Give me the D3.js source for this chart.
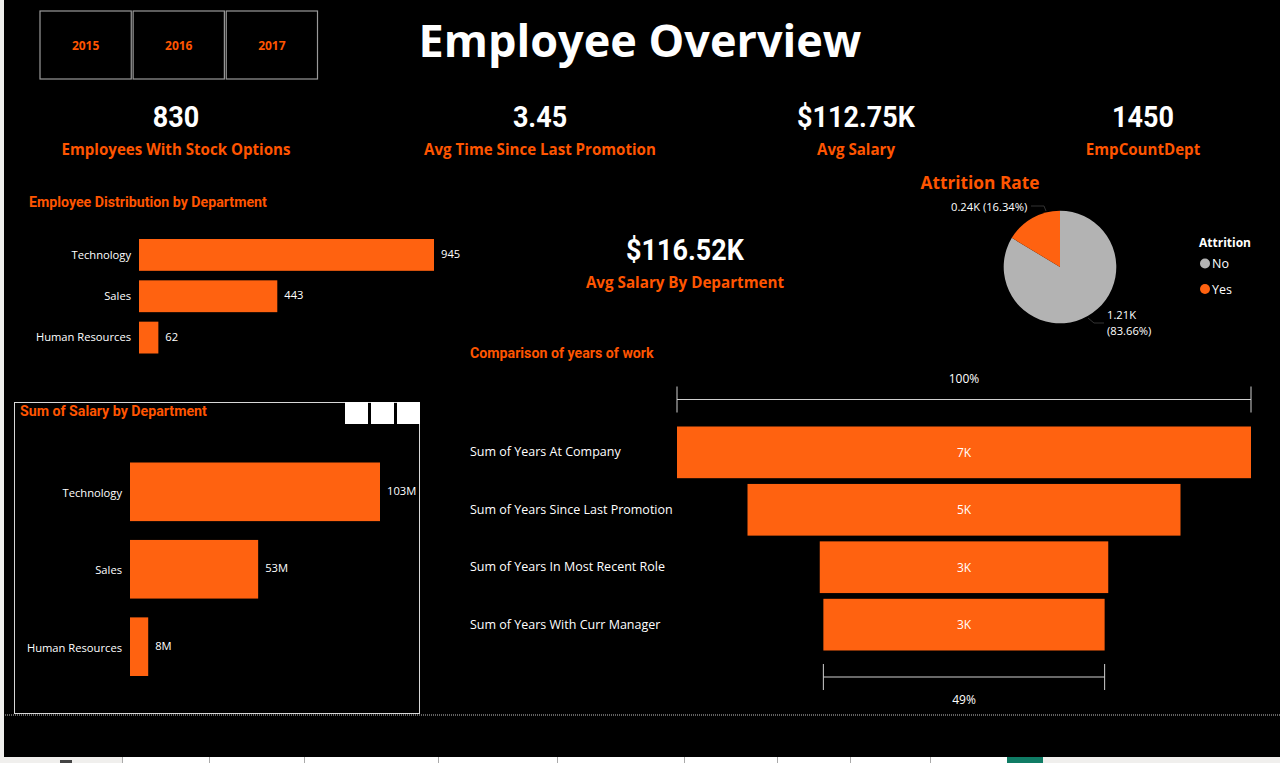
<!DOCTYPE html>
<html>
<head>
<meta charset="utf-8">
<title>Employee Overview</title>
<script src="https://cdn.jsdelivr.net/npm/d3@7"></script>
<style>
  html, body { margin: 0; padding: 0; background: #f0efed; overflow: hidden; }
  svg { display: block; }
  text { font-family: "Open Sans", sans-serif; }
  .din { font-family: Roboto, sans-serif; font-weight: 700; }
</style>
</head>
<body>
<div id="chart"></div>
<script>
const years = ['2015', '2016', '2017'];

const kpiValues = ['830', '3.45', '$112.75K', '1450'];
const kpiLabels = ['Employees With Stock Options', 'Avg Time Since Last Promotion', 'Avg Salary', 'EmpCountDept'];

const departments = ['Technology', 'Sales', 'Human Resources'];
const employeeCounts = [945, 443, 62];
const salarySums = [103, 52.8, 7.5];

const attritionLabels = ['No', 'Yes'];
const attritionCounts = [1213, 237];

const funnelStages = ['Sum of Years At Company', 'Sum of Years Since Last Promotion', 'Sum of Years In Most Recent Role', 'Sum of Years With Curr Manager'];
const funnelValues = [6900, 5205, 3468, 3381];

const ORANGE = '#ff6210';
const TEXT_ORANGE = '#ff5500';
const GREY = '#b3b3b3';

const svg = d3.select('#chart').append('svg')
    .attr('width', 1280)
    .attr('height', 763);

// dashboard background, the window chrome stays visible round it
svg.append('rect').attr('x', 4).attr('y', 0).attr('width', 1276).attr('height', 757).attr('fill', '#000');

function label(x, y, str, size, fill, anchor, cls) {
    return svg.append('text')
        .attr('class', cls || null)
        .attr('x', x)
        .attr('y', y)
        .attr('text-anchor', anchor || 'middle')
        .attr('font-size', size)
        .attr('fill', fill)
        .text(str);
}

// the big numbers are a narrower face than Roboto, squeeze them a bit
function condense(sel, k) {
    const len = sel.node().getComputedTextLength();
    sel.attr('textLength', len * k).attr('lengthAdjust', 'spacingAndGlyphs');
}

// year slicer
const yearX = d3.scaleBand().domain(years).range([40, 317.5]).paddingInner(0.02);
const yearCells = svg.selectAll('.year').data(years).join('g').attr('class', 'year');
yearCells.append('rect')
    .attr('x', d => yearX(d))
    .attr('y', 11)
    .attr('width', yearX.bandwidth())
    .attr('height', 68)
    .attr('fill', '#000')
    .attr('stroke', '#9a9a9a')
    .attr('stroke-width', 1.2);
yearCells.append('text')
    .attr('x', d => yearX(d) + yearX.bandwidth() / 2)
    .attr('y', 49.5)
    .attr('text-anchor', 'middle')
    .attr('font-size', 12)
    .attr('font-weight', 700)
    .attr('fill', TEXT_ORANGE)
    .text(d => d);

label(640, 57, 'Employee Overview', 45, '#fff').attr('font-weight', 700);

// KPI cards
const kpiX = [176, 540, 856, 1143];
kpiValues.forEach((v, i) => {
    condense(label(kpiX[i], 127, v, 29, '#fff', 'middle', 'din'), 0.93);
    label(kpiX[i], 155, kpiLabels[i], 15.1, TEXT_ORANGE).attr('font-weight', 700);
});

condense(label(685, 260, '$116.52K', 29, '#fff', 'middle', 'din'), 0.93);
label(685, 288, 'Avg Salary By Department', 15.2, TEXT_ORANGE).attr('font-weight', 700);

// horizontal bar chart, shared by both department panels
function departmentBars(opts) {
    const x = d3.scaleLinear().domain([0, opts.max]).range([0, opts.width]);
    const y = d3.scaleBand().domain(departments).range([opts.top, opts.bottom]).paddingInner(opts.gap);
    const g = svg.append('g').attr('transform', `translate(${opts.left},0)`);

    g.selectAll('rect')
        .data(opts.values)
        .join('rect')
        .attr('x', 0)
        .attr('y', (d, i) => y(departments[i]))
        .attr('width', d => x(d))
        .attr('height', y.bandwidth())
        .attr('fill', ORANGE);

    const axis = g.append('g').call(d3.axisLeft(y).tickSize(0).tickPadding(8));
    axis.select('.domain').remove();
    axis.selectAll('text')
        .attr('font-family', '"Open Sans", sans-serif')
        .attr('font-size', 11.2)
        .attr('fill', '#fff')
        .attr('dy', opts.labelDy);

    g.selectAll('.value')
        .data(opts.values)
        .join('text')
        .attr('class', 'value')
        .attr('x', d => x(d) + 7)
        .attr('y', (d, i) => y(departments[i]) + y.bandwidth() / 2 + 3)
        .attr('font-size', 11.2)
        .attr('fill', '#fff')
        .text(opts.format);
}

label(29, 207, 'Employee Distribution by Department', 14.2, TEXT_ORANGE, 'start', 'din');
departmentBars({
    values: employeeCounts, max: 945, width: 295, left: 139,
    top: 239, bottom: 353.5, gap: 0.23, labelDy: '0.32em',
    format: d => d
});

// salary panel
svg.append('rect')
    .attr('x', 14.5).attr('y', 402.5)
    .attr('width', 405).attr('height', 311)
    .attr('fill', 'none').attr('stroke', '#d8d8d8');
label(20, 416, 'Sum of Salary by Department', 14.2, TEXT_ORANGE, 'start', 'din');
[345, 371, 397].forEach(x => {
    svg.append('rect').attr('x', x).attr('y', 402).attr('width', 23).attr('height', 22).attr('fill', '#fff');
});
departmentBars({
    values: salarySums, max: 103, width: 250, left: 130,
    top: 462.5, bottom: 676, gap: 0.243, labelDy: '0.45em',
    format: d => Math.round(d) + 'M'
});

// attrition pie
label(980, 189, 'Attrition Rate', 17.3, TEXT_ORANGE).attr('font-weight', 700);

const pie = d3.pie().sort(null)(attritionCounts);
const arc = d3.arc().innerRadius(0).outerRadius(56.3);
const pieColor = d3.scaleOrdinal().domain(attritionLabels).range([GREY, ORANGE]);
svg.append('g')
    .attr('transform', 'translate(1060,267)')
    .selectAll('path')
    .data(pie)
    .join('path')
    .attr('d', arc)
    .attr('fill', (d, i) => pieColor(attritionLabels[i]));

// leader lines for the pie labels
const leader = d3.line();
svg.append('path').attr('d', leader([[1031, 206], [1044, 206], [1046, 211]])).attr('fill', 'none').attr('stroke', '#333');
svg.append('path').attr('d', leader([[1088, 318], [1094, 323], [1104, 323]])).attr('fill', 'none').attr('stroke', '#333');
label(951, 211, '0.24K (16.34%)', 11.2, '#fff', 'start');
label(1107, 319, '1.21K', 11.2, '#fff', 'start');
label(1107, 335, '(83.66%)', 11.2, '#fff', 'start');

label(1199, 247, 'Attrition', 12, '#fff', 'start').attr('font-weight', 700);
attritionLabels.forEach((d, i) => {
    const y = 263.5 + i * 25.5;
    svg.append('circle').attr('cx', 1205).attr('cy', y).attr('r', 5).attr('fill', pieColor(d));
    label(1212, y + 4.5, d, 12.5, '#fff', 'start');
});

// funnel
label(470, 358, 'Comparison of years of work', 14.2, TEXT_ORANGE, 'start', 'din');

const funnelW = d3.scaleLinear().domain([0, funnelValues[0]]).range([0, 574]);
const funnelY = d3.scaleBand().domain(funnelStages).range([426.5, 650.5]).paddingInner(0.1);
const funnelMid = 964;

svg.selectAll('.stage')
    .data(funnelValues)
    .join('rect')
    .attr('class', 'stage')
    .attr('x', d => funnelMid - funnelW(d) / 2)
    .attr('y', (d, i) => funnelY(funnelStages[i]))
    .attr('width', d => funnelW(d))
    .attr('height', funnelY.bandwidth())
    .attr('fill', ORANGE);

svg.selectAll('.stage-value')
    .data(funnelValues)
    .join('text')
    .attr('class', 'stage-value')
    .attr('x', funnelMid)
    .attr('y', (d, i) => funnelY(funnelStages[i]) + funnelY.bandwidth() / 2 + 4.5)
    .attr('text-anchor', 'middle')
    .attr('font-size', 12)
    .attr('fill', '#fff')
    .text(d => Math.round(d / 1000) + 'K');

const funnelAxis = svg.append('g')
    .attr('transform', 'translate(470,0)')
    .call(d3.axisRight(funnelY).tickSize(0).tickPadding(0));
funnelAxis.select('.domain').remove();
funnelAxis.selectAll('text')
    .attr('font-family', '"Open Sans", sans-serif')
    .attr('font-size', 12.5)
    .attr('fill', '#fff');

// brackets showing the first and last stage widths
function bracket(value, y, pct, textY) {
    const half = funnelW(value) / 2;
    const g = svg.append('g').attr('stroke', '#d0d0d0').attr('fill', 'none');
    g.append('line').attr('x1', funnelMid - half).attr('x2', funnelMid + half).attr('y1', y).attr('y2', y);
    g.append('line').attr('x1', funnelMid - half).attr('x2', funnelMid - half).attr('y1', y - 13).attr('y2', y + 13);
    g.append('line').attr('x1', funnelMid + half).attr('x2', funnelMid + half).attr('y1', y - 13).attr('y2', y + 13);
    label(funnelMid, textY, pct, 12, '#fff');
}
bracket(funnelValues[0], 399.5, d3.format('.0%')(1), 383);
bracket(funnelValues[3], 677, d3.format('.0%')(funnelValues[3] / funnelValues[0]), 704);

// dotted page edge
svg.append('line')
    .attr('x1', 5).attr('x2', 1280).attr('y1', 715).attr('y2', 715)
    .attr('stroke', '#c4c4c4').attr('stroke-dasharray', '1 1');

// worksheet tabs along the bottom
svg.append('rect').attr('x', 122).attr('y', 757).attr('width', 885).attr('height', 6).attr('fill', '#fff');
[122, 209, 304, 438, 557, 684, 777, 850, 930].forEach(x => {
    svg.append('line').attr('x1', x + 0.5).attr('x2', x + 0.5).attr('y1', 757).attr('y2', 763).attr('stroke', '#aaa');
});
svg.append('rect').attr('x', 1007).attr('y', 757).attr('width', 36).attr('height', 6).attr('fill', '#107c65');
svg.append('rect').attr('x', 60).attr('y', 760).attr('width', 12).attr('height', 3).attr('fill', '#444');
</script>
</body>
</html>
